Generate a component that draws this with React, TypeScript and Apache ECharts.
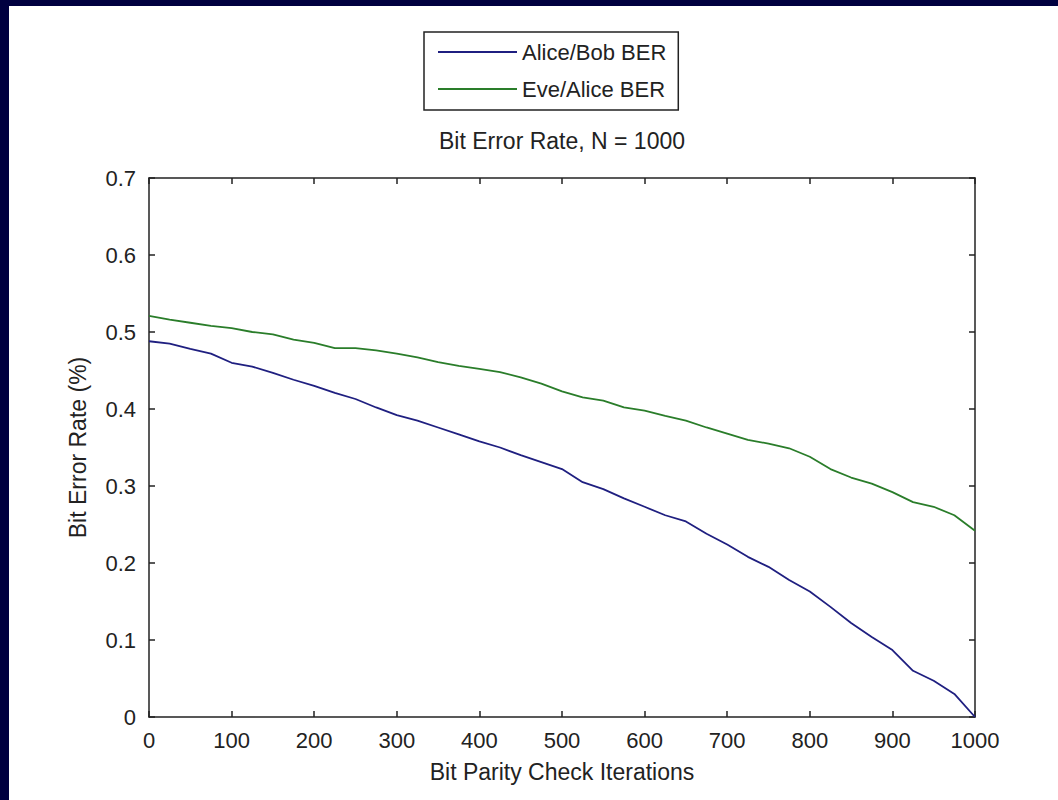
import React, { useEffect, useRef } from "react";
import * as echarts from "echarts";

const iterations = [0, 25, 50, 75, 100, 125, 150, 175, 200, 225, 250, 275, 300, 325, 350, 375, 400, 425, 450, 475, 500, 525, 550, 575, 600, 625, 650, 675, 700, 725, 750, 775, 800, 825, 850, 875, 900, 925, 950, 975, 1000];
const aliceBob = [0.488, 0.485, 0.478, 0.472, 0.46, 0.455, 0.447, 0.438, 0.43, 0.421, 0.413, 0.402, 0.392, 0.385, 0.376, 0.367, 0.358, 0.35, 0.34, 0.331, 0.322, 0.305, 0.296, 0.284, 0.273, 0.262, 0.254, 0.238, 0.224, 0.208, 0.195, 0.178, 0.163, 0.143, 0.122, 0.104, 0.087, 0.06, 0.047, 0.03, 0.0];
const eveAlice = [0.521, 0.516, 0.512, 0.508, 0.505, 0.5, 0.497, 0.49, 0.486, 0.479, 0.479, 0.476, 0.472, 0.467, 0.461, 0.456, 0.452, 0.448, 0.441, 0.433, 0.423, 0.415, 0.411, 0.402, 0.398, 0.391, 0.385, 0.376, 0.368, 0.36, 0.355, 0.349, 0.338, 0.322, 0.311, 0.303, 0.292, 0.279, 0.273, 0.262, 0.242];
const seriesNames = ["Alice/Bob BER", "Eve/Alice BER"];
const titleText = "Bit Error Rate, N = 1000";
const xName = "Bit Parity Check Iterations";
const yName = "Bit Error Rate (%)";

const FONT = "'Liberation Sans', Arial, Helvetica, sans-serif";
const TXT = "#222";

export default function App() {
  const ref = useRef<HTMLDivElement>(null);
  useEffect(() => {
    if (!ref.current) return;
    const chart = echarts.init(ref.current, undefined, { renderer: "svg" });
    const axisLine = { show: true, onZero: false, lineStyle: { color: "#222", width: 1.5 } };
    const axisTick = { show: true, inside: true, length: 6, lineStyle: { color: "#222", width: 1.5 } };
    chart.setOption({
      animation: false,
      backgroundColor: "#ffffff",
      textStyle: { fontFamily: FONT },
      legend: {
        data: seriesNames,
        orient: "vertical",
        left: 424 - 9,
        top: 32 - 6,
        padding: [8, 12, 9, 14],
        icon: "rect",
        itemWidth: 79,
        itemHeight: 2,
        itemGap: 13,
        borderColor: "#222",
        borderWidth: 1.5,
        backgroundColor: "#fff",
        textStyle: { fontSize: 22, color: TXT, fontFamily: FONT, lineHeight: 24, height: 24 },
      },
      grid: { left: 149 - 9, top: 178 - 6, right: 1049 - (975 - 9), bottom: 794 - (717 - 6), containLabel: false },
      xAxis: [
        {
          type: "value", min: 0, max: 1000, interval: 100, position: "bottom",
          axisLine, axisTick, splitLine: { show: false },
          axisLabel: { fontSize: 22, color: TXT, margin: 12, fontFamily: FONT, formatter: (v: number) => String(v) },
          name: xName, nameLocation: "middle", nameGap: 43,
          nameTextStyle: { fontSize: 23, color: TXT, fontFamily: FONT },
        },
        {
          type: "value", min: 0, max: 1000, interval: 100, position: "top",
          axisLine, axisTick, splitLine: { show: false }, axisLabel: { show: false },
          name: titleText, nameLocation: "middle", nameGap: 26,
          nameTextStyle: { fontSize: 23, color: TXT, fontFamily: FONT },
        },
      ],
      yAxis: [
        {
          type: "value", min: 0, max: 0.7, interval: 0.1, position: "left",
          axisLine, axisTick, splitLine: { show: false },
          axisLabel: { fontSize: 22, color: TXT, margin: 13, fontFamily: FONT, formatter: (v: number) => (v === 0 ? "0" : v.toFixed(1)) },
          name: yName, nameLocation: "middle", nameGap: 60, nameRotate: 90,
          nameTextStyle: { fontSize: 23, color: TXT, fontFamily: FONT },
        },
        {
          type: "value", min: 0, max: 0.7, interval: 0.1, position: "right",
          axisLine, axisTick, splitLine: { show: false }, axisLabel: { show: false },
        },
      ],
      series: [
        {
          name: seriesNames[0], type: "line", xAxisIndex: 0, yAxisIndex: 0,
          symbol: "none", showSymbol: false,
          lineStyle: { color: "#1f1f80", width: 1.8 }, itemStyle: { color: "#1f1f80" },
          data: iterations.map((x, i) => [x, aliceBob[i]]),
        },
        {
          name: seriesNames[1], type: "line", xAxisIndex: 0, yAxisIndex: 0,
          symbol: "none", showSymbol: false,
          lineStyle: { color: "#2a7d2a", width: 1.8 }, itemStyle: { color: "#2a7d2a" },
          data: iterations.map((x, i) => [x, eveAlice[i]]),
        },
      ],
    });
    return () => chart.dispose();
  }, []);
  return (
    <div style={{ position: "fixed", left: 0, top: 0, width: 1058, height: 800, background: "#000040" }}>
      <div ref={ref} style={{ position: "absolute", left: 9, top: 6, width: 1049, height: 794, background: "#fff" }} />
    </div>
  );
}
